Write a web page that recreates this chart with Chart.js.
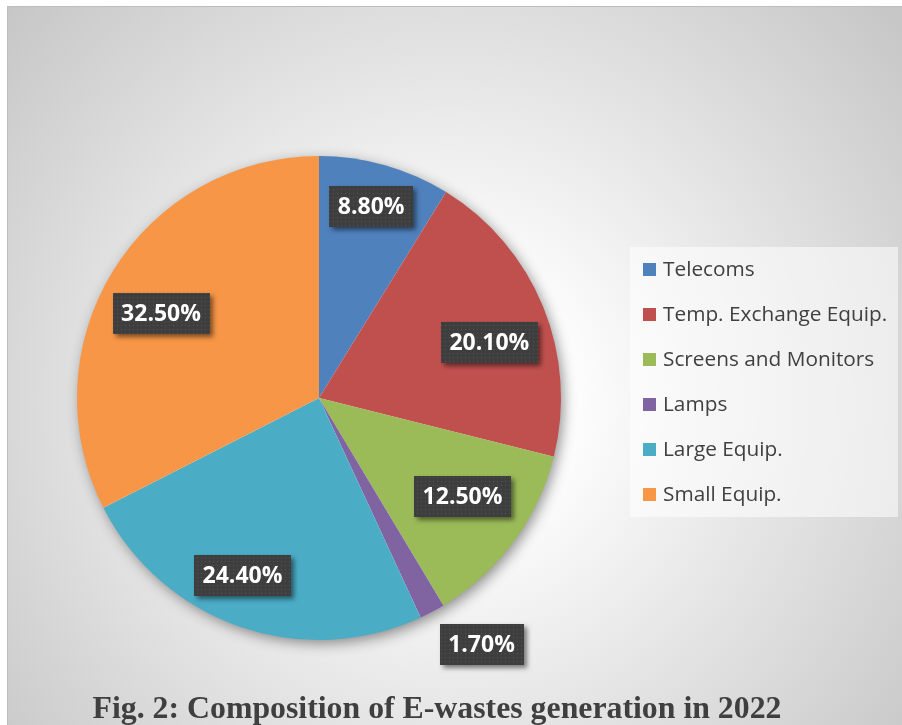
<!DOCTYPE html>
<html>
<head>
<meta charset="utf-8">
<title>E-wastes composition 2022</title>
<script src="https://cdn.jsdelivr.net/npm/chart.js@4"></script>
<style>
  html, body { margin: 0; padding: 0; background: #fff; }
  canvas { display: block; }
</style>
</head>
<body>
<canvas id="pie" width="902" height="725"></canvas>
<script>
// e-waste categories and their share of 2022 generation (%)
const categories = ["Telecoms", "Temp. Exchange Equip.", "Screens and Monitors", "Lamps", "Large Equip.", "Small Equip."]
const shares = [8.8, 20.1, 12.5, 1.7, 24.4, 32.5]
const sliceColors = ["#4f81bd", "#c0504d", "#9bbb59", "#8064a2", "#4bacc6", "#f79646"]
const caption = "Fig. 2: Composition of E-wastes generation in 2022"

// where each value box sits: fraction of the radius and a small turn (degrees)
const boxRadius = [0.82, 0.74, 0.72, 1.22, 0.80, 0.74]
const boxTurn = [-0.6, 4.2, -2, -5.5, 4.2, -3.4]

function dotPattern(ctx) {
  let c = document.createElement("canvas")
  c.width = 4
  c.height = 4
  let p = c.getContext("2d")
  p.fillStyle = "#3e3e3e"
  p.fillRect(0, 0, 4, 4)
  p.fillStyle = "#545454"
  p.fillRect(1, 1, 1, 1)
  return ctx.createPattern(c, "repeat")
}

const backdrop = {
  id: "backdrop",
  beforeDraw(chart) {
    const ctx = chart.ctx
    ctx.save()
    ctx.fillStyle = "#fff"
    ctx.fillRect(0, 0, chart.width, chart.height)
    ctx.fillStyle = "#bdbdbd"
    ctx.fillRect(7, 6, chart.width - 7, chart.height - 6)
    let g = ctx.createRadialGradient(450, 400, 0, 450, 400, 620)
    g.addColorStop(0, "#ffffff")
    g.addColorStop(0.2, "#fdfdfd")
    g.addColorStop(1, "#c3c3c3")
    ctx.fillStyle = g
    ctx.fillRect(8, 7, chart.width - 8, chart.height - 7)
    ctx.restore()
  },
  beforeDatasetsDraw(chart) {
    // soft shadow under the whole pie
    const arc = chart.getDatasetMeta(0).data[0]
    const ctx = chart.ctx
    ctx.save()
    ctx.shadowColor = "rgba(0,0,0,0.45)"
    ctx.shadowBlur = 14
    ctx.shadowOffsetX = 3
    ctx.shadowOffsetY = 4
    ctx.fillStyle = "#ffffff"
    ctx.beginPath()
    ctx.arc(arc.x, arc.y, arc.outerRadius - 1, 0, Math.PI * 2)
    ctx.fill()
    ctx.restore()
  }
}

const valueBoxes = {
  id: "valueBoxes",
  afterDatasetsDraw(chart) {
    const ctx = chart.ctx
    const pattern = dotPattern(ctx)
    const values = chart.data.datasets[0].data
    chart.getDatasetMeta(0).data.forEach((arc, i) => {
      const p = arc.getProps(["x", "y", "startAngle", "endAngle", "outerRadius"], true)
      const mid = (p.startAngle + p.endAngle) / 2 + boxTurn[i] * Math.PI / 180
      const cx = p.x + Math.cos(mid) * p.outerRadius * boxRadius[i]
      const cy = p.y + Math.sin(mid) * p.outerRadius * boxRadius[i]
      const text = values[i].toFixed(2) + "%"
      ctx.save()
      ctx.font = "bold 23px 'Open Sans'"
      const w = ctx.measureText(text).width + 17
      const h = 41
      ctx.shadowColor = "rgba(0,0,0,0.5)"
      ctx.shadowBlur = 5
      ctx.shadowOffsetX = 3
      ctx.shadowOffsetY = 3
      ctx.fillStyle = pattern
      ctx.fillRect(Math.round(cx - w / 2), Math.round(cy - h / 2), Math.round(w), h)
      ctx.shadowColor = "transparent"
      ctx.fillStyle = "#ffffff"
      ctx.textAlign = "center"
      ctx.textBaseline = "middle"
      ctx.fillText(text, cx, cy + 1)
      ctx.restore()
    })
  }
}

const sideLegend = {
  id: "sideLegend",
  afterDraw(chart) {
    const ctx = chart.ctx
    const colors = chart.data.datasets[0].backgroundColor
    ctx.save()
    ctx.fillStyle = "rgba(255,255,255,0.55)"
    ctx.fillRect(630, 247, 268, 270)
    ctx.font = "20.8px 'Open Sans'"
    ctx.textBaseline = "middle"
    chart.data.labels.forEach((name, i) => {
      const y = 269 + i * 45
      ctx.fillStyle = colors[i]
      ctx.fillRect(643, y - 6, 13, 13)
      ctx.fillStyle = "#404040"
      ctx.fillText(name, 663, y + 1)
    })
    // figure caption along the bottom
    ctx.font = "bold 31.8px 'Liberation Serif'"
    ctx.textAlign = "center"
    ctx.textBaseline = "alphabetic"
    ctx.fillStyle = "#3f3f3f"
    ctx.fillText(caption, 437, 718)
    ctx.restore()
  }
}

new Chart(document.getElementById("pie"), {
  type: "pie",
  data: {
    labels: categories,
    datasets: [{
      data: shares,
      backgroundColor: sliceColors,
      borderWidth: 0
    }]
  },
  options: {
    responsive: false,
    animation: false,
    layout: { padding: { left: 77, top: 156, right: 341, bottom: 85 } },
    plugins: {
      legend: { display: false },
      tooltip: { enabled: false }
    }
  },
  plugins: [backdrop, valueBoxes, sideLegend]
})
</script>
</body>
</html>
